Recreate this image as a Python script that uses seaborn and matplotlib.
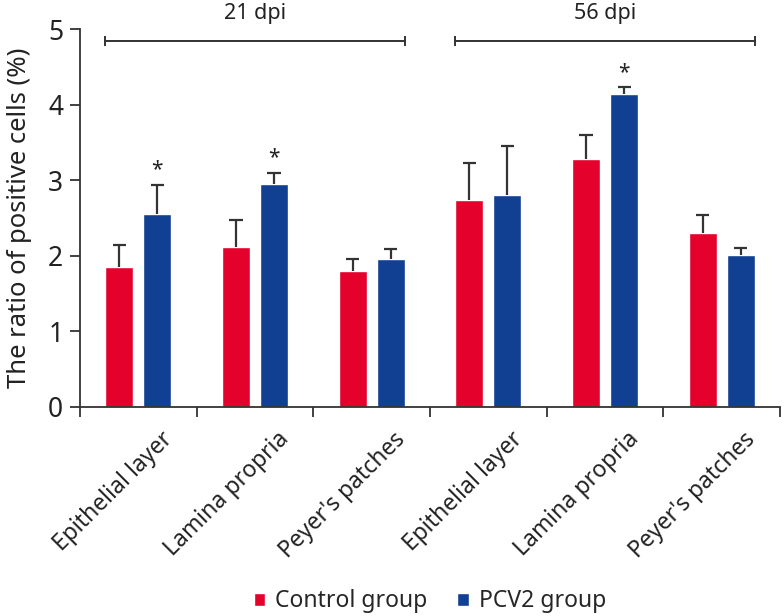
import pandas as pd
import numpy as np
import matplotlib
matplotlib.use('Agg')
import matplotlib.pyplot as plt
from matplotlib.transforms import ScaledTranslation
from matplotlib.patches import Patch
import seaborn as sns

# values
sites = ['Epithelial layer', 'Lamina propria', "Peyer's patches",
         'Epithelial layer', 'Lamina propria', "Peyer's patches"]
keys = ['21_epi', '21_lam', '21_pey', '56_epi', '56_lam', '56_pey']
control_mean = [1.85, 2.11, 1.80, 2.74, 3.28, 2.30]
control_err = [0.29, 0.36, 0.16, 0.49, 0.32, 0.24]
pcv2_mean = [2.55, 2.95, 1.96, 2.81, 4.14, 2.01]
pcv2_err = [0.39, 0.15, 0.13, 0.65, 0.09, 0.09]
pcv2_signif = [True, True, False, False, True, False]
timepoints = ['21 dpi', '56 dpi']
groups = ['Control group', 'PCV2 group']

RED = '#E4022D'
BLUE = '#113F92'
DARK = '#333333'
TEXT = '#222222'

df = pd.DataFrame({
    'site': keys * 2,
    'group': [groups[0]] * 6 + [groups[1]] * 6,
    'value': control_mean + pcv2_mean,
})

sns.set_style('ticks')
plt.rcParams['font.family'] = ['Noto Sans', 'DejaVu Sans']

fig = plt.figure(figsize=(7.84, 6.16), dpi=100)
ax = fig.add_axes([0.102, 0.3398, 0.893, 0.6127])

sns.barplot(data=df, x='site', y='value', hue='group', order=keys,
            hue_order=groups, palette=[RED, BLUE], width=0.652, gap=0.264,
            errorbar=None, saturation=1, ax=ax, legend=False)

bar_sets = [list(c.patches) for c in ax.containers]
red_bars, blue_bars = bar_sets

# upper-only error bars starting at the bar tops
errs = [control_err, pcv2_err]
means = [control_mean, pcv2_mean]
centers = []
cap = 0.056
for ci, bars in enumerate(bar_sets):
    xs = np.array([p.get_x() + p.get_width() / 2 for p in bars])
    centers.append(xs)
    tops = np.array(means[ci]) + np.array(errs[ci])
    ax.vlines(xs, means[ci], tops, color=DARK, lw=1.6, zorder=1)
    ax.hlines(tops, xs - cap, xs + cap, color=DARK, lw=1.6, zorder=1)

# significance stars
for i, sig in enumerate(pcv2_signif):
    if sig:
        ax.text(centers[1][i], pcv2_mean[i] + pcv2_err[i] + 0.2, '*',
                ha='center', va='center', fontsize=15, color=TEXT)

# time point brackets above the axes
for t, label in enumerate(timepoints):
    x0 = red_bars[3 * t].get_x()
    x1 = blue_bars[3 * t + 2].get_x() + blue_bars[3 * t + 2].get_width()
    ax.plot([x0, x1], [4.84, 4.84], color=DARK, lw=1.4, marker='|', ms=7,
            mew=1.4, clip_on=False)
    ax.text((x0 + x1) / 2, 5.21, label, ha='center', va='center',
            fontsize=15.5, color=TEXT, clip_on=False)

ax.set_ylim(0, 5)
ax.set_xlim(-0.5, 5.5)
ax.set_yticks(range(6))
ax.tick_params(axis='y', length=7, width=1.3, color=DARK, pad=5,
               labelsize=19, labelcolor=TEXT)

ax.set_xticks(range(6))
ax.set_xticklabels(sites, rotation=45, ha='right', va='top',
                   rotation_mode='anchor', fontsize=16.5, color=TEXT)
ax.tick_params(axis='x', which='major', length=0, pad=15)
ax.set_xticks(np.arange(-0.5, 6, 1), minor=True)
ax.tick_params(axis='x', which='minor', length=7, width=1.3, color=DARK)
offset = ScaledTranslation(0.22, 0, fig.dpi_scale_trans)
for lab in ax.xaxis.get_majorticklabels():
    lab.set_transform(lab.get_transform() + offset)

ax.set_xlabel('')
ax.set_ylabel('The ratio of positive cells (%)', fontsize=18.5, color=TEXT,
              labelpad=12)

sns.despine(ax=ax)
for s in ['left', 'bottom']:
    ax.spines[s].set_color(DARK)
    ax.spines[s].set_linewidth(1.3)

handles = [Patch(facecolor=RED), Patch(facecolor=BLUE)]
fig.legend(handles, groups, loc='center', bbox_to_anchor=(430 / 784, 0.024),
           ncol=2, frameon=False, fontsize=16.5, handlelength=0.5,
           handleheight=0.5, handletextpad=0.45, columnspacing=1.3)

fig.savefig('out.png', dpi=100)
